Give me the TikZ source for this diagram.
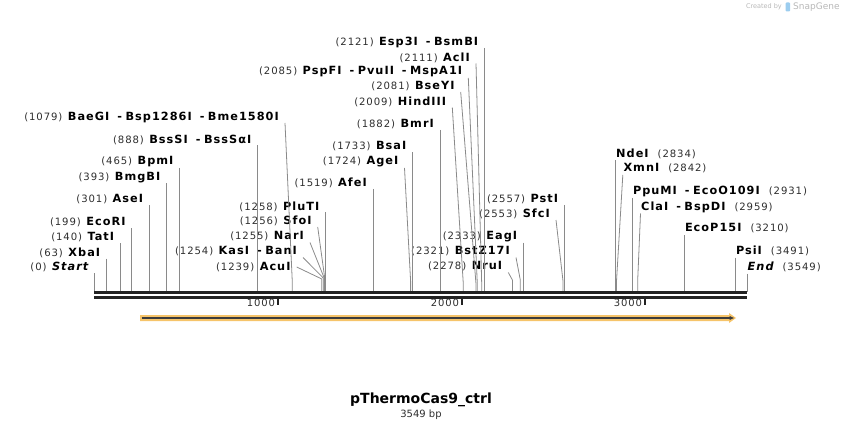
\documentclass[tikz,border=0pt]{standalone}
\usepackage{fontspec}
\setmainfont{DejaVu Sans}
\newfontfamily\labfont[LetterSpace=9]{DejaVu Sans}
\usetikzlibrary{positioning,arrows.meta}

\definecolor{sitegray}{HTML}{8A8A8A}
\definecolor{numgray}{HTML}{2E2E2E}
\definecolor{bbblack}{HTML}{222222}
\definecolor{featorange}{HTML}{F6C46A}
\definecolor{featdark}{HTML}{3C3C3C}
\definecolor{logogray}{HTML}{B8B8B8}
\definecolor{logoblue}{HTML}{9CCDEF}

% label pieces
\newcommand{\bpnum}[1]{{\fontsize{10.1}{11}\selectfont\color{numgray}(#1)}}
\newcommand{\enz}[1]{{\fontsize{11.3}{12}\selectfont\bfseries #1}}
\newcommand{\labgap}{\hspace{5.5pt}}
\newcommand{\rgap}{\hspace{9pt}}
\newcommand{\enzsep}{\hspace{8pt}-\hspace{3.5pt}}

\begin{document}
\begin{tikzpicture}[x=1pt, y=-1pt,
    leftlab/.style={anchor=east, inner sep=0pt, font=\labfont},
    rightlab/.style={anchor=west, inner sep=0pt, font=\labfont},
    site/.style={draw=sitegray, line width=0.8pt},
    backbone/.style={draw=bbblack, line width=3pt, double=white, double distance=2pt},
    tickmark/.style={draw=bbblack, line width=1.6pt},
    ticklab/.style={anchor=east, inner sep=0pt, font=\labfont\fontsize{10}{11}\selectfont, text=numgray}
]
\useasboundingbox (0,0) rectangle (842,430);

% backbone
\coordinate (bbL) at (94,295);
\coordinate (bbR) at (747,295);
\coordinate (bb) at (94,292);

% left labels
\node[leftlab] (start) at (88.5,267) {\bpnum{0}\labgap\enz{\itshape Start}};
\node[leftlab] (xba) at (100.3,252.5) {\bpnum{63}\labgap\enz{XbaI}};
\node[leftlab] (tat) at (114.3,237) {\bpnum{140}\labgap\enz{TatI}};
\node[leftlab] (eco) at (125.7,222) {\bpnum{199}\labgap\enz{EcoRI}};
\node[leftlab] (ase) at (143.3,199.3) {\bpnum{301}\labgap\enz{AseI}};
\node[leftlab] (bmg) at (160.5,177.3) {\bpnum{393}\labgap\enz{BmgBI}};
\node[leftlab] (bpm) at (173.6,162) {\bpnum{465}\labgap\enz{BpmI}};
\node[leftlab] (bss) at (251.5,139.5) {\bpnum{888}\labgap\enz{BssSI\enzsep BssSαI}};
\node[leftlab] (bae) at (279,117) {\bpnum{1079}\labgap\enz{BaeGI\enzsep Bsp1286I\enzsep Bme1580I}};

\node[leftlab] (acu) at (290.7,267) {\bpnum{1239}\labgap\enz{AcuI}};
\node[leftlab] (kas) at (297,251.5) {\bpnum{1254}\labgap\enz{KasI\enzsep BanI}};
\node[leftlab] (nar) at (304,236.5) {\bpnum{1255}\labgap\enz{NarI}};
\node[leftlab] (sfo) at (311.7,221) {\bpnum{1256}\labgap\enz{SfoI}};
\node[leftlab] (plu) at (319.5,206.5) {\bpnum{1258}\labgap\enz{PluTI}};

\node[leftlab] (afe) at (367,183) {\bpnum{1519}\labgap\enz{AfeI}};
\node[leftlab] (age) at (398.5,162) {\bpnum{1724}\labgap\enz{AgeI}};
\node[leftlab] (bsa) at (406.5,146.5) {\bpnum{1733}\labgap\enz{BsaI}};
\node[leftlab] (bmr) at (434,124) {\bpnum{1882}\labgap\enz{BmrI}};
\node[leftlab] (hind) at (446.3,101.5) {\bpnum{2009}\labgap\enz{HindIII}};
\node[leftlab] (bse) at (454.7,86) {\bpnum{2081}\labgap\enz{BseYI}};
\node[leftlab] (psp) at (462.3,72) {\bpnum{2085}\labgap\enz{PspFI\enzsep PvuII\enzsep MspA1I}};
\node[leftlab] (acl) at (470,57.5) {\bpnum{2111}\labgap\enz{AclI}};
\node[leftlab] (esp) at (478.3,42) {\bpnum{2121}\labgap\enz{Esp3I\enzsep BsmBI}};

\node[leftlab] (nru) at (502.3,266.5) {\bpnum{2278}\labgap\enz{NruI}};
\node[leftlab] (bstz) at (510,251.5) {\bpnum{2321}\labgap\enz{BstZ17I}};
\node[leftlab] (eag) at (517.3,236.5) {\bpnum{2333}\labgap\enz{EagI}};
\node[leftlab] (sfc) at (550,214) {\bpnum{2553}\labgap\enz{SfcI}};
\node[leftlab] (pst) at (558.3,199) {\bpnum{2557}\labgap\enz{PstI}};

% right labels
\node[rightlab] (nde) at (616,154) {\enz{NdeI}\rgap\bpnum{2834}};
\node[rightlab] (xmn) at (623.3,168.5) {\enz{XmnI}\rgap\bpnum{2842}};
\node[rightlab] (ppu) at (632.8,191.5) {\enz{PpuMI\enzsep EcoO109I}\rgap\bpnum{2931}};
\node[rightlab] (cla) at (641,207) {\enz{ClaI\enzsep BspDI}\rgap\bpnum{2959}};
\node[rightlab] (ecop) at (684.8,228.5) {\enz{EcoP15I}\rgap\bpnum{3210}};
\node[rightlab] (psi) at (735.8,251) {\enz{PsiI}\rgap\bpnum{3491}};
\node[rightlab] (fin) at (747.5,267) {\enz{\itshape End}\rgap\bpnum{3549}};

% bends of slanted site lines
\coordinate (Kbae) at (292.3,282);
\coordinate (Kacu) at (321.8,279);
\coordinate (Kkas) at (323.3,278);
\coordinate (Knar) at (324,277.5);
\coordinate (Ksfo) at (324.6,277);
\coordinate (Kage) at (410.6,281);
\coordinate (Khind) at (463.3,284);
\coordinate (Kbse) at (476,284);
\coordinate (Kpsp) at (477.3,284);
\coordinate (Kacl) at (481.7,284);
\coordinate (Knru) at (512.4,280);
\coordinate (Kbstz) at (520.3,280);
\coordinate (Ksfc) at (563,281);
\coordinate (Kxmn) at (616.5,281);
\coordinate (Kcla) at (637.7,280);

% site lines
\foreach \n in {start,xba,tat,eco,ase,bmg,bpm,bss,plu,afe,bsa,bmr,esp,eag,pst}
    \draw[site] ([shift={(6,6)}]\n.east) coordinate (top) -- (top |- bb);
\foreach \n in {bae,kas,nar,sfo,age,hind,bse,psp,acl,nru,bstz,sfc}
    \draw[site] ([shift={(6,6)}]\n.east) -- (K\n) -- (K\n |- bb);
\draw[site] ([shift={(6,0)}]acu.east) -- (Kacu) -- (Kacu |- bb);
\foreach \n in {nde,ppu,ecop,psi,fin}
    \draw[site] ([shift={(-0.5,6.5)}]\n.west) coordinate (top) -- (top |- bb);
\foreach \n in {xmn,cla}
    \draw[site] ([shift={(-0.5,6.5)}]\n.west) -- (K\n) -- (K\n |- bb);

\draw[backbone] (bbL) -- (bbR);

% ruler
\foreach \k/\x in {1000/277.8,2000/461.7,3000/644.7} {
    \coordinate (tk\k) at (\x,299);
    \draw[tickmark] (tk\k) -- ++(0,6);
    \node[ticklab] (tl\k) at ([shift={(-2.5,4)}]tk\k) {\k};
}

% feature arrow
\coordinate (fs) at (140,318);
\coordinate (fe) at (736,318);
\fill[featorange] (fs) ++(0,-3) -- ([shift={(-7,-3)}]fe) -- ([shift={(-7,-5)}]fe) -- (fe)
    -- ([shift={(-7,5)}]fe) -- ([shift={(-7,3)}]fe) -- ([shift={(0,3)}]fs) -- cycle;
\draw[featdark, line width=1.4pt, -{Latex[length=5pt,width=4.5pt]}] ([xshift=1.5]fs) -- ([xshift=-1.5]fe);

% title
\node[inner sep=0pt, font=\bfseries\fontsize{14}{16}\selectfont] (title) at (421,399.5) {pThermoCas9\_ctrl};
\node[inner sep=0pt, font=\fontsize{10}{12}\selectfont, text=numgray, below=3pt of title] (len) {3549 bp};

% logo
\node[inner sep=0pt, anchor=east, font=\fontsize{6.5}{7}\selectfont, text=logogray] (made) at (782,7) {Created by};
\fill[logoblue, rounded corners=1pt] (785.5,2.5) rectangle (790,11.5);
\node[inner sep=0pt, anchor=west, font=\fontsize{9}{10}\selectfont, text=logogray] (snap) at (793,7) {SnapGene};
\end{tikzpicture}
\end{document}
